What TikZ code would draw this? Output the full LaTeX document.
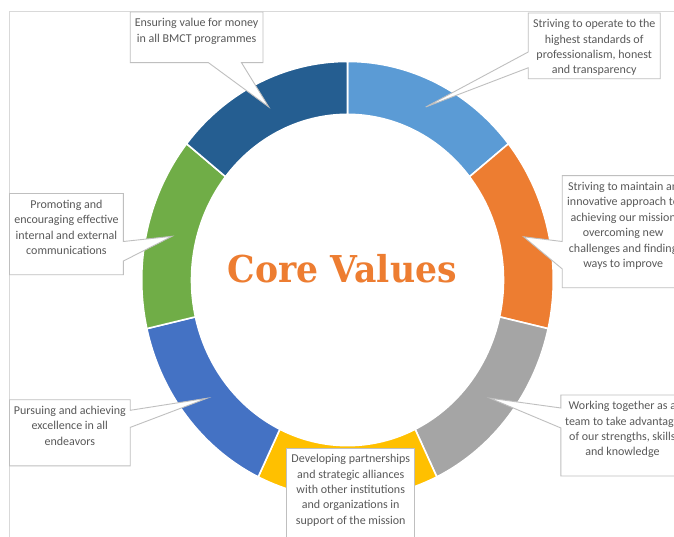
\documentclass[tikz,border=0pt]{standalone}
\usepackage{fontspec}
\setmainfont{Carlito}
\newfontfamily\titlefont{DejaVu Serif}
\usetikzlibrary{calc}

\definecolor{segLightBlue}{HTML}{5B9BD5}
\definecolor{segOrange}{HTML}{ED7D31}
\definecolor{segGray}{HTML}{A5A5A5}
\definecolor{segYellow}{HTML}{FFC000}
\definecolor{segBlue}{HTML}{4472C4}
\definecolor{segGreen}{HTML}{70AD47}
\definecolor{segDarkBlue}{HTML}{255E91}
\definecolor{frameline}{HTML}{D9D9D9}
\definecolor{boxline}{HTML}{BFBFBF}
\definecolor{labelgray}{HTML}{595959}
\definecolor{coreorange}{HTML}{ED7D31}

\begin{document}
\begin{tikzpicture}[x=1pt,y=-1pt,
  frame/.style={draw=frameline, line width=0.8pt},
  segment/.style={draw=white, line width=1.6pt, line join=miter},
  boxgeom/.style={draw=none, inner sep=0pt, outer sep=0pt, anchor=north west},
  calloutline/.style={draw=boxline, fill=white, line width=0.9pt, line join=miter},
  labeltext/.style={anchor=north, inner sep=0pt, align=center, text=labelgray,
    font=\fontsize{12}{15.4}\selectfont},
  titletext/.style={anchor=base, inner sep=0pt, text=coreorange,
    font=\titlefont\bfseries\fontsize{37}{40}\selectfont}]
\useasboundingbox (0,0) rectangle (674,537);
\clip (0,0) rectangle (674,537);
\fill[white] (0,0) rectangle (674,537);

% chart area frame
\draw[frame] (9.5,545) -- (9.5,11.3) -- (690,11.3);

% doughnut ring, seven equal slices clockwise from the top
\begin{scope}[shift={(347.5,280)}, x=1pt, y=1.062pt]
  \foreach \c [count=\k from 0] in {segLightBlue,segOrange,segGray,segYellow,segBlue,segGreen,segDarkBlue} {
    \pgfmathsetmacro\a{90-51.428571*\k}
    \pgfmathsetmacro\b{\a-51.428571}
    \filldraw[segment, fill=\c] (\a:205.8) arc[start angle=\a, end angle=\b, radius=205.8]
      -- (\b:156) arc[start angle=\b, end angle=\a, radius=156] -- cycle;
  }
\end{scope}

% callout boxes
\node[boxgeom, minimum width=132.8pt, minimum height=50.7pt] (box1) at (130.2,12) {};
\node[boxgeom, minimum width=132pt, minimum height=65.8pt] (box2) at (528.2,13) {};
\node[boxgeom, minimum width=113.9pt, minimum height=81.2pt] (box3) at (9.5,193.5) {};
\node[boxgeom, minimum width=122pt, minimum height=112pt] (box4) at (562.2,175.7) {};
\node[boxgeom, minimum width=120.7pt, minimum height=66.1pt] (box5) at (9.5,399.7) {};
\node[boxgeom, minimum width=123pt, minimum height=81pt] (box6) at (560.9,395) {};
\node[boxgeom, minimum width=128.1pt, minimum height=110pt] (box7) at (286.7,448) {};

% pointer tips on the ring
\coordinate (tip1) at (268.8,107);
\coordinate (tip2) at (425.7,107);
\coordinate (tip3) at (172,236.3);
\coordinate (tip4) at (523.7,236.8);
\coordinate (tip5) at (207.2,398.2);
\coordinate (tip6) at (490,398.2);

\filldraw[calloutline] (box1.north west) -- (box1.north east) -- (box1.south east)
  -- ($(box1.south west)+(111.3,0)$) -- (tip1) -- ($(box1.south west)+(78.3,0)$)
  -- (box1.south west) -- cycle;
\filldraw[calloutline] (box2.north west) -- (box2.north east) -- (box2.south east)
  -- (box2.south west) -- ($(box2.north west)+(0,54.8)$) -- (tip2)
  -- ($(box2.north west)+(0,39)$) -- cycle;
\filldraw[calloutline] (box3.north west) -- (box3.north east)
  -- ($(box3.north east)+(0,48)$) -- (tip3) -- ($(box3.north east)+(0,67.5)$)
  -- (box3.south east) -- (box3.south west) -- cycle;
\filldraw[calloutline] (box4.north west) -- (box4.north east) -- (box4.south east)
  -- (box4.south west) -- ($(box4.north west)+(0,93.2)$) -- (tip4)
  -- ($(box4.north west)+(0,65.8)$) -- cycle;
\filldraw[calloutline] (box5.north west) -- (box5.north east)
  -- ($(box5.north east)+(0,10.6)$) -- (tip5) -- ($(box5.north east)+(0,27.7)$)
  -- (box5.south east) -- (box5.south west) -- cycle;
\filldraw[calloutline] (box6.north west) -- (box6.north east) -- (box6.south east)
  -- (box6.south west) -- ($(box6.north west)+(0,33)$) -- (tip6)
  -- ($(box6.north west)+(0,13)$) -- cycle;
\filldraw[calloutline] (box7.north west) -- (box7.north east) -- (box7.south east)
  -- (box7.south west) -- cycle;

% callout texts
\node[labeltext] (txt1) at ($(box1.north)+(0,5.5)$)
  {\rule{0pt}{9pt}Ensuring value for money\\in all BMCT programmes};
\node[labeltext] (txt2) at ($(box2.north)+(0,5.5)$)
  {\rule{0pt}{9pt}Striving to operate to the\\highest standards of\\professionalism, honest\\and transparency};
\node[labeltext] (txt3) at ($(box3.north)+(0,5.5)$)
  {\rule{0pt}{9pt}Promoting and\\encouraging effective\\internal and external\\communications};
\node[labeltext] (txt4) at ($(box4.north)+(0,5.5)$)
  {\rule{0pt}{9pt}Striving to maintain an\\innovative approach to\\achieving our mission\\overcoming new\\challenges and finding\\ways to improve};
\node[labeltext] (txt5) at ($(box5.north)+(0,5.5)$)
  {\rule{0pt}{9pt}Pursuing and achieving\\excellence in all\\endeavors};
\node[labeltext] (txt6) at ($(box6.north)+(0,5.5)$)
  {\rule{0pt}{9pt}Working together as a\\team to take advantage\\of our strengths, skills\\and knowledge};
\node[labeltext] (txt7) at ($(box7.north)+(0,5.5)$)
  {\rule{0pt}{9pt}Developing partnerships\\and strategic alliances\\with other institutions\\and organizations in\\support of the mission};

% centre title, set slightly condensed
\node[titletext] (title) at (342.3,282.6) {\scalebox{0.935}[1]{Core Values}};
\end{tikzpicture}
\end{document}
